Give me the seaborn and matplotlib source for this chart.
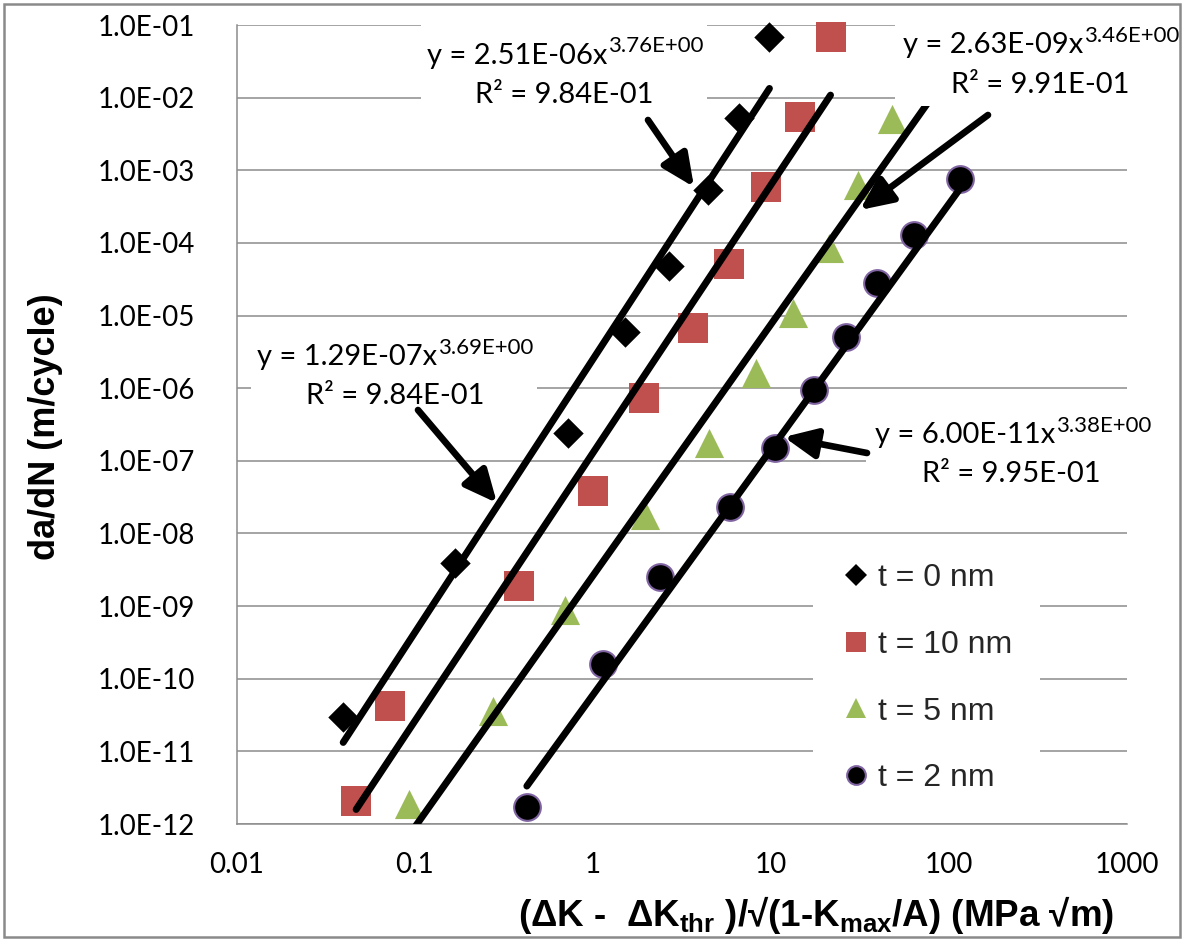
import numpy as np
import matplotlib
matplotlib.use("Agg")
import matplotlib.pyplot as plt
import seaborn as sns
from matplotlib.lines import Line2D
from matplotlib.patches import Rectangle
from matplotlib.ticker import FixedLocator, FuncFormatter, NullLocator

# values
labels = ["t = 0 nm", "t = 10 nm", "t = 5 nm", "t = 2 nm"]

x_t0 = [0.0395, 0.168, 0.72, 1.51, 2.67, 4.41, 6.6, 9.8]
y_t0 = [2.95e-11, 3.9e-9, 2.4e-7, 5.9e-6, 4.8e-5, 5.3e-4, 5.2e-3, 6.8e-2]

x_t10 = [0.0467, 0.072, 0.384, 1.0, 1.94, 3.65, 5.81, 9.37, 14.6, 21.6]
y_t10 = [2.1e-12, 4.2e-11, 1.9e-9, 3.9e-8, 7.3e-7, 6.7e-6, 5.1e-5, 5.9e-4, 5.4e-3, 6.8e-2]

x_t5 = [0.092, 0.274, 0.70, 1.96, 4.49, 8.24, 13.3, 21.2, 30.8, 47.9, 75.0]
y_t5 = [1.9e-12, 3.6e-11, 8.7e-10, 1.8e-8, 1.75e-7, 1.6e-6, 1.1e-5, 8.5e-5, 6.3e-4, 5.1e-3, 6.8e-2]

x_t2 = [0.425, 1.14, 2.38, 5.89, 10.5, 17.5, 26.4, 39.4, 63.6, 115.0]
y_t2 = [1.7e-12, 1.6e-10, 2.5e-9, 2.3e-8, 1.5e-7, 9.4e-7, 5.0e-6, 2.8e-5, 1.28e-4, 7.6e-4]

x_data = [x_t0, x_t10, x_t5, x_t2]
y_data = [y_t0, y_t10, y_t5, y_t2]

# power-law trendlines y = a * x^b as printed on the chart
fit_a = [2.51e-6, 1.29e-7, 2.63e-9, 6.00e-11]
fit_b = [3.76, 3.69, 3.46, 3.38]
eq_coef = ["2.51E-06", "1.29E-07", "2.63E-09", "6.00E-11"]
eq_exp = ["3.76E+00", "3.69E+00", "3.46E+00", "3.38E+00"]
eq_r2 = ["9.84E-01", "9.84E-01", "9.91E-01", "9.95E-01"]

x_ticks = [0.01, 0.1, 1, 10, 100, 1000]
x_tick_labels = ["0.01", "0.1", "1", "10", "100", "1000"]
y_ticks = [10.0 ** k for k in range(-12, 0)]

# styling
markers = ["D", "s", "^", "o"]
faces = ["#000000", "#C0504D", "#9BBB59", "#000000"]
edges = ["#000000", "#C0504D", "#9BBB59", "#8064A2"]
edge_w = [0, 0, 0, 1.5]
sizes = [240, 450, 440, 370]
leg_ms = [11.0, 15.0, 15.0, 13.5]
gray = "#8c8c8c"

W, H = 1184, 940


def fxy(px, py):
    return px / W, 1 - py / H


sns.set_theme(style="white")
plt.rcParams["font.family"] = ["Lato", "DejaVu Sans"]
plt.rcParams["mathtext.fontset"] = "custom"
plt.rcParams["mathtext.rm"] = "Liberation Sans:bold"
plt.rcParams["mathtext.it"] = "Liberation Sans:bold"
plt.rcParams["mathtext.bf"] = "Liberation Sans:bold"

fig, ax = plt.subplots(figsize=(W / 100, H / 100), dpi=100)
fig.subplots_adjust(left=237 / W, right=1127 / W, top=1 - 25 / H, bottom=1 - 824 / H)
ax.set_xscale("log")
ax.set_yscale("log")

for i in range(len(labels)):
    xs, ys = x_data[i], y_data[i]
    sns.scatterplot(x=xs, y=ys, ax=ax, marker=markers[i], s=sizes[i],
                    color=faces[i], edgecolor=edges[i], linewidth=edge_w[i],
                    zorder=3, clip_on=False, legend=False)
    xf = np.geomspace(min(xs), max(xs), 80)
    yf = fit_a[i] * xf ** fit_b[i]
    sns.lineplot(x=xf, y=yf, ax=ax, color="black", lw=5, sort=False,
                 solid_capstyle="round", zorder=4)

ax.set_xlim(0.01, 1000)
ax.set_ylim(1e-12, 1e-1)
ax.xaxis.set_major_locator(FixedLocator(x_ticks))
ax.xaxis.set_minor_locator(NullLocator())
ax.set_xticklabels(x_tick_labels)
ax.yaxis.set_major_locator(FixedLocator(y_ticks))
ax.yaxis.set_minor_locator(NullLocator())
ax.yaxis.set_major_formatter(FuncFormatter(lambda v, p: f"{v:.1E}"))
ax.tick_params(axis="x", direction="in", length=8, width=1, color=gray,
               pad=20, labelsize=20, labelcolor="black")
ax.tick_params(axis="y", length=0, pad=30, labelsize=20, labelcolor="black")
ax.grid(axis="y", color=gray, lw=1.1)
ax.grid(axis="x", visible=False)
ax.set_xlabel("")
ax.set_ylabel("")
for side in ["top", "right"]:
    ax.spines[side].set_visible(False)
for side in ["left", "bottom"]:
    ax.spines[side].set_color(gray)
    ax.spines[side].set_linewidth(1.1)

# legend
handles = [Line2D([], [], ls="none", marker=markers[i], markersize=leg_ms[i],
                  markerfacecolor=faces[i], markeredgecolor=edges[i],
                  markeredgewidth=edge_w[i]) for i in range(len(labels))]
ax.legend(handles, labels, loc="upper left", bbox_to_anchor=fxy(813, 536),
          bbox_transform=fig.transFigure, frameon=True, facecolor="white",
          edgecolor="none", framealpha=1, fancybox=False, handlelength=1.0,
          handletextpad=0.2, labelspacing=1.15, borderpad=0.85, borderaxespad=0,
          prop={"family": "Liberation Sans", "size": 23})

# trendline labels with white boxes
eq_left = [427, 257, 903, 875]
eq_base = [64, 365, 53, 443]
r2_center = [564, 395, 1040, 1011]
r2_base = [103, 404, 93, 482]
boxes = [(421, 18, 707, 112), (251, 330, 537, 414), (895, 18, 1180, 106), (866, 410, 1180, 494)]
for i in range(len(labels)):
    x0, y0, x1, y1 = boxes[i]
    bx, by = fxy(x0, y1)
    ax.add_patch(Rectangle((bx, by), (x1 - x0) / W, (y1 - y0) / H, transform=fig.transFigure,
                           facecolor="white", edgecolor="none", clip_on=False, zorder=10))
    ex, ey = fxy(eq_left[i], eq_base[i])
    main = ax.text(ex, ey, f"y = {eq_coef[i]}x", transform=fig.transFigure, fontsize=21,
                   ha="left", va="baseline", color="black", zorder=11)
    ax.annotate(eq_exp[i], xy=(1, 0), xycoords=main, xytext=(0.5, 9), textcoords="offset points",
                fontsize=16, ha="left", va="bottom", color="black", zorder=11)
    rx, ry = fxy(r2_center[i], r2_base[i])
    ax.text(rx, ry, f"R\u00b2 = {eq_r2[i]}", transform=fig.transFigure, fontsize=21,
            ha="center", va="baseline", color="black", zorder=11)

# arrows pointing from the labels to the lines
arrow_tail = [(648, 120), (418, 410), (988, 115), (867, 453)]
arrow_tip = [(694, 187), (497, 503), (860, 210), (784, 437)]
for (tx, ty), (hx, hy) in zip(arrow_tail, arrow_tip):
    ax.annotate("", xy=(hx, H - hy), xycoords="figure pixels",
                xytext=(tx, H - ty), textcoords="figure pixels",
                arrowprops=dict(arrowstyle="-|>,head_length=0.65,head_width=0.3",
                                color="black", lw=4.8, mutation_scale=30,
                                shrinkA=0, shrinkB=0),
                annotation_clip=False, zorder=12)

# axis titles
tx, ty = fxy(816, 915)
ax.text(tx, ty, r"(ΔK -  ΔK$_{\mathrm{thr}}$ )/√(1-K$_{\mathrm{max}}$/A) (MPa √m)",
        transform=fig.transFigure, ha="center", va="center", fontsize=26.5,
        fontweight="bold", family="Liberation Sans", color="black")
tx, ty = fxy(46, 427)
ax.text(tx, ty, "da/dN (m/cycle)", transform=fig.transFigure, rotation=90,
        ha="center", va="center", fontsize=26, fontweight="bold",
        family="Liberation Sans", color="black")

fig.add_artist(Rectangle((0.003, 0.003), 0.994, 0.993, transform=fig.transFigure,
                         fill=False, edgecolor="#8a8a8a", lw=1.8))

fig.savefig("out.png", dpi=100)
